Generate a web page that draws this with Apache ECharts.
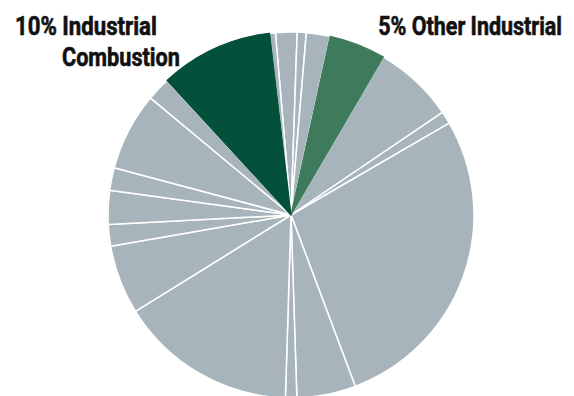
<!DOCTYPE html>
<html>
<head>
<meta charset="utf-8">
<style>
  html, body { margin: 0; padding: 0; background: #ffffff; }
  #chart { width: 574px; height: 396px; }
</style>
<script src="https://cdn.jsdelivr.net/npm/echarts@6/dist/echarts.min.js"></script>
</head>
<body>
<div id="chart"></div>
<script>
// Emission shares by sector (percent), listed clockwise from just left of 12 o'clock.
const sectors = [
  'Sector 1', 'Sector 2', 'Sector 3', 'Other Industrial', 'Sector 5', 'Sector 6',
  'Sector 7', 'Sector 8', 'Sector 9', 'Sector 10', 'Sector 11', 'Sector 12',
  'Sector 13', 'Sector 14', 'Sector 15', 'Sector 16', 'Industrial Combustion', 'Sector 18'
];
const shares = [
  1.9, 0.8, 2.1, 5, 7.1, 1.1,
  27.7, 5.2, 1.0, 15.7, 6.1, 1.9,
  3.0, 2.0, 6.9, 2.1, 10, 0.5
];
// Sectors picked out in colour, with their callout text.
const highlighted = {
  'Industrial Combustion': { color: '#03503b', label: ['10% Industrial', 'Combustion'] },
  'Other Industrial': { color: '#3e7b5c', label: ['5% Other Industrial'] }
};

const GREY = '#a8b4bc';
const CENTER = [291, 215];
const RADIUS = 183;
const START = 94.9;

const baseData = sectors.map((name, i) => ({
  name: name,
  value: shares[i],
  itemStyle: { color: highlighted[name] ? highlighted[name].color : GREY }
}));

// Second pass over the same slices: only the coloured ones are painted,
// so their edges sit flush against neighbours without the white divider.
const accentData = sectors.map((name, i) => {
  const h = highlighted[name];
  return {
    name: name,
    value: shares[i],
    itemStyle: h
      ? { color: h.color, borderColor: h.color, borderWidth: 1.2 }
      : { color: 'rgba(0,0,0,0)', borderWidth: 0 }
  };
});

// Callouts use a condensed look: a bold face squeezed horizontally to a set width.
const labelFont = 'bold 26px Roboto, "Liberation Sans", sans-serif';
const measureCtx = document.createElement('canvas').getContext('2d');
measureCtx.font = labelFont;
function calloutText(text, x, baselineY, width, align) {
  const w = measureCtx.measureText(text).width;
  return {
    type: 'text',
    x: x,
    y: baselineY - 8.8,
    scaleX: width / w,
    silent: true,
    style: {
      text: text,
      font: labelFont,
      fill: '#111111',
      stroke: '#111111',
      lineWidth: 0.6,
      align: align,
      verticalAlign: 'middle'
    }
  };
}

const combustion = highlighted['Industrial Combustion'].label;
const otherInd = highlighted['Other Industrial'].label;

const chart = echarts.init(document.getElementById('chart'), null, { renderer: 'svg' });
chart.setOption({
  animation: false,
  backgroundColor: '#ffffff',
  series: [
    {
      type: 'pie',
      center: CENTER,
      radius: RADIUS,
      startAngle: START,
      clockwise: true,
      silent: true,
      label: { show: false },
      labelLine: { show: false },
      itemStyle: { borderColor: '#ffffff', borderWidth: 1.5 },
      data: baseData
    },
    {
      type: 'pie',
      center: CENTER,
      radius: RADIUS,
      startAngle: START,
      clockwise: true,
      silent: true,
      label: { show: false },
      labelLine: { show: false },
      data: accentData
    }
  ],
  graphic: [
    calloutText(combustion[0], 15, 35, 142, 'left'),
    calloutText(combustion[1], 62, 66, 118, 'left'),
    calloutText(otherInd[0], 562, 35, 184, 'right')
  ]
});
</script>
</body>
</html>
